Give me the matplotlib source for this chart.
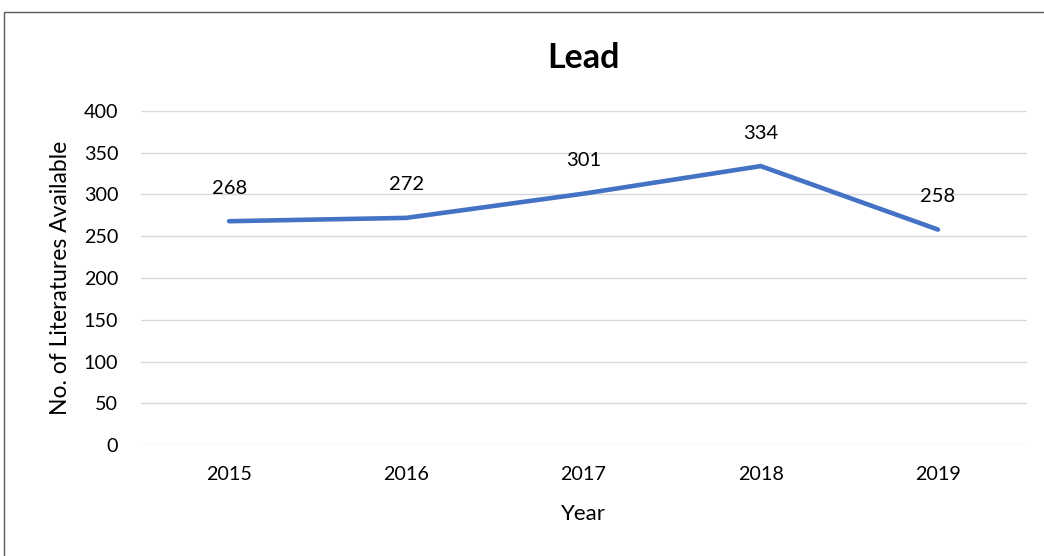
import matplotlib.pyplot as plt
import matplotlib.patches as mpatches

plt.rcParams["font.family"] = ["Lato", "DejaVu Sans"]

# --- data -----------------------------------------------------------------
years = ["2015", "2016", "2017", "2018", "2019"]
counts = [268, 272, 301, 334, 258]
y_ticks = [0, 50, 100, 150, 200, 250, 300, 350, 400]

LINE_COLOR = "#4472C4"
GRID_COLOR = "#D9D9D9"

fig = plt.figure(figsize=(10.44, 5.56), dpi=100)
ax = fig.add_axes([0.1346, 0.1996, 0.8487, 0.6008])

x = list(range(len(years)))
ax.plot(x, counts, color=LINE_COLOR, lw=3.3, solid_capstyle="round",
        solid_joinstyle="miter", zorder=3)

for xi, v in zip(x, counts):
    ax.annotate(str(v), xy=(xi, v), xytext=(0, 33), textcoords="offset pixels",
                ha="center", va="center", fontsize=14.5)

ax.set_xlim(-0.5, len(years) - 0.5)
ax.set_ylim(0, 400)
ax.set_xticks(x)
ax.set_xticklabels(years)
ax.set_yticks(y_ticks)
ax.tick_params(axis="both", length=0, labelsize=14.2)
ax.tick_params(axis="y", pad=16)
ax.tick_params(axis="x", pad=15)
ax.grid(axis="y", color=GRID_COLOR, lw=1.0)
ax.set_axisbelow(True)
for s in ax.spines.values():
    s.set_visible(False)

ax.set_xlabel("Year", fontsize=16, labelpad=15)
ax.set_ylabel("No. of Literatures Available", fontsize=16.5, labelpad=9)
ax.set_title("Lead", fontsize=24.5, fontweight="bold", pad=31)

# chart border (runs off the right and bottom edges of the crop)
border = mpatches.Rectangle((4 / 1044, -0.1), 1.2, 1 - 12 / 556 + 0.1,
                            transform=fig.transFigure, fill=False,
                            ec="#595959", lw=1.0)
fig.patches.append(border)

fig.savefig("out.png", dpi=100)
